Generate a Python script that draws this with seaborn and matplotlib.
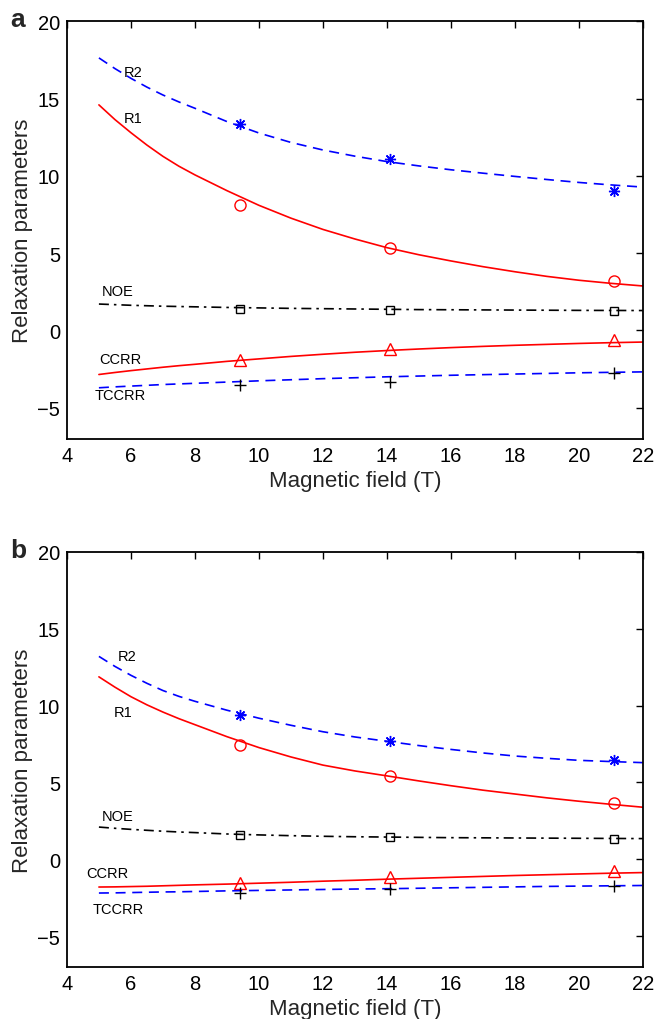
import numpy as np
import pandas as pd
import matplotlib
matplotlib.use("Agg")
import matplotlib.pyplot as plt
import seaborn as sns

# pola magnetyczne pomiarow
B_PTS = [9.4, 14.1, 21.1]
# krzywe
B_CURVE = [5, 5.5, 6, 6.5, 7, 7.5, 8, 9, 10, 11, 12, 13, 14, 15, 16, 17, 18, 19, 20, 21, 22]

# panel a
A_R2_PTS = [13.33, 11.1, 9.05]
A_R1_PTS = [8.1, 5.36, 3.17]
A_NOE_PTS = [1.41, 1.33, 1.24]
A_CCRR_PTS = [-1.93, -1.18, -0.64]
A_TCCRR_PTS = [-3.54, -3.32, -2.74]
A_R2_CURVE = [17.64, 16.95, 16.32, 15.75, 15.24, 14.79, 14.38, 13.52, 12.78, 12.17, 11.68,
              11.28, 10.93, 10.65, 10.4, 10.18, 9.97, 9.77, 9.58, 9.42, 9.28]
A_R1_CURVE = [14.6, 13.65, 12.8, 12.0, 11.27, 10.63, 10.07, 9.05, 8.1, 7.27, 6.54,
              5.92, 5.36, 4.9, 4.5, 4.13, 3.8, 3.5, 3.25, 3.05, 2.88]
A_NOE_CURVE = [1.71, 1.67, 1.63, 1.6, 1.57, 1.55, 1.53, 1.49, 1.46, 1.43, 1.41,
               1.39, 1.37, 1.35, 1.34, 1.33, 1.32, 1.31, 1.3, 1.295, 1.29]
A_CCRR_CURVE = [-2.85, -2.72, -2.6, -2.49, -2.38, -2.28, -2.19, -2.0, -1.84, -1.68, -1.54,
                -1.41, -1.3, -1.2, -1.11, -1.03, -0.96, -0.9, -0.84, -0.79, -0.75]
A_TCCRR_CURVE = [-3.71, -3.65, -3.6, -3.55, -3.5, -3.46, -3.42, -3.34, -3.26, -3.19, -3.12,
                 -3.06, -3.0, -2.95, -2.9, -2.86, -2.82, -2.78, -2.74, -2.71, -2.68]

# panel b
B_R2_PTS = [9.36, 7.68, 6.46]
B_R1_PTS = [7.42, 5.43, 3.67]
B_NOE_PTS = [1.61, 1.46, 1.31]
B_CCRR_PTS = [-1.55, -1.16, -0.77]
B_TCCRR_PTS = [-2.19, -1.91, -1.72]
B_R2_CURVE = [13.2, 12.55, 11.97, 11.45, 10.98, 10.6, 10.28, 9.7, 9.18, 8.72, 8.3,
              7.96, 7.68, 7.4, 7.15, 6.92, 6.72, 6.57, 6.44, 6.36, 6.29]
B_R1_CURVE = [11.87, 11.2, 10.58, 10.05, 9.58, 9.15, 8.76, 7.98, 7.27, 6.66, 6.13,
              5.75, 5.43, 5.1, 4.79, 4.5, 4.25, 4.0, 3.78, 3.58, 3.39]
B_NOE_CURVE = [2.1, 2.02, 1.95, 1.89, 1.83, 1.78, 1.74, 1.65, 1.59, 1.54, 1.5,
               1.47, 1.45, 1.43, 1.41, 1.4, 1.39, 1.38, 1.37, 1.36, 1.35]
B_CCRR_CURVE = [-1.8, -1.79, -1.77, -1.75, -1.72, -1.69, -1.66, -1.61, -1.55, -1.49, -1.42,
                -1.36, -1.29, -1.23, -1.17, -1.11, -1.05, -1.0, -0.95, -0.9, -0.86]
B_TCCRR_CURVE = [-2.19, -2.18, -2.16, -2.14, -2.12, -2.11, -2.09, -2.05, -2.02, -1.99, -1.96,
                 -1.93, -1.91, -1.88, -1.85, -1.82, -1.79, -1.76, -1.74, -1.72, -1.7]

LABELS = ["R2", "R1", "NOE", "CCRR", "TCCRR"]
LABEL_POS_A = [(6.07, 16.72), (6.07, 13.78), (5.6, 2.53), (5.67, -1.82), (5.67, -4.18)]
LABEL_POS_B = [(5.87, 13.2), (5.77, 9.61), (5.6, 2.79), (5.25, -0.86), (5.6, -3.2)]

sns.set_theme(style="white")
plt.rcParams['font.family'] = ['Liberation Sans', 'DejaVu Sans']

# styl: (kolor linii, styl linii, marker, kolor markera)
STYLE = {
    "R2": ("#0000ff", (0, (6, 4)), (8, 2, 0), "#0000ff"),
    "R1": ("#ff0000", "-", "o", "#ff0000"),
    "NOE": ("black", (0, (6, 3, 1.5, 3)), "s", "black"),
    "CCRR": ("#ff0000", "-", "^", "#ff0000"),
    "TCCRR": ("#0000ff", (0, (6, 4)), "+", "black"),
}


def Panel(ax, curves, points, label_pos, letter):
    for name, cy, py, (lx, ly) in zip(LABELS, curves, points, label_pos):
        kol, ls, mk, mkol = STYLE[name]
        df_c = pd.DataFrame({"B": B_CURVE, "val": cy})
        sns.lineplot(data=df_c, x="B", y="val", ax=ax, color=kol, linestyle=ls, linewidth=1.2)
        ax.plot(B_PTS, py, linestyle="none", marker=mk, markersize=8 if mk != "s" else 6,
                markerfacecolor="none", markeredgecolor=mkol, markeredgewidth=1.0)
        ax.text(lx, ly, name, fontsize=10.5, ha="center", va="center", color="black")

    ax.set_xlim(4, 22)
    ax.set_ylim(-7, 20)
    ax.set_xticks(range(4, 23, 2))
    ax.set_yticks(range(-5, 21, 5))
    ax.set_yticklabels(["\u22125", "0", "5", "10", "15", "20"])
    ax.tick_params(direction="in", top=True, right=True, length=5, width=1.0,
                   labelsize=14.5, colors="black", pad=5)
    for s in ax.spines.values():
        s.set_color("black")
        s.set_linewidth(1.3)
    ax.set_xlabel("Magnetic field (T)", fontsize=16, labelpad=4)
    ax.set_ylabel("Relaxation parameters", fontsize=16, labelpad=3)
    ax.grid(False)
    ax.text(-0.085, 1.005, letter, transform=ax.transAxes, fontsize=19, fontweight="bold",
            ha="center", va="center")


fig = plt.figure(figsize=(6.56, 10.2), dpi=100)
ax_a = fig.add_axes([0.102, 0.569, 0.878, 0.409])
ax_b = fig.add_axes([0.102, 0.051, 0.878, 0.407])

Panel(ax_a, [A_R2_CURVE, A_R1_CURVE, A_NOE_CURVE, A_CCRR_CURVE, A_TCCRR_CURVE],
      [A_R2_PTS, A_R1_PTS, A_NOE_PTS, A_CCRR_PTS, A_TCCRR_PTS], LABEL_POS_A, "a")
Panel(ax_b, [B_R2_CURVE, B_R1_CURVE, B_NOE_CURVE, B_CCRR_CURVE, B_TCCRR_CURVE],
      [B_R2_PTS, B_R1_PTS, B_NOE_PTS, B_CCRR_PTS, B_TCCRR_PTS], LABEL_POS_B, "b")

fig.savefig("out.png", dpi=100)
